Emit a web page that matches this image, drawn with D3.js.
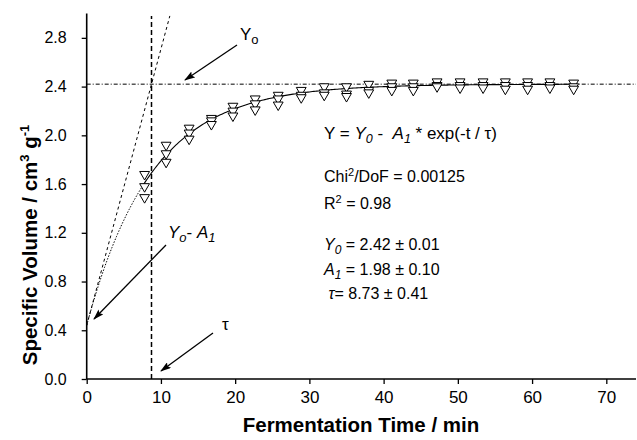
<!DOCTYPE html>
<html>
<head>
<meta charset="utf-8">
<script src="https://cdn.jsdelivr.net/npm/d3@7"></script>
<style>
  body { margin: 0; background: #fff; }
  text { font-family: Arial, "Liberation Sans", sans-serif; fill: #000; white-space: pre; }
</style>
</head>
<body>
<svg width="637" height="440"></svg>
<script>
// fermentation times (min), three repeat runs
const times = [7.8, 10.7, 13.8, 16.8, 19.7, 22.7, 25.8, 28.9, 32.0, 35.0, 38.0, 41.1, 44.0, 47.2, 50.3, 53.4, 56.4, 59.4, 62.4, 65.6]
const run1 = [1.68, 1.92, 2.06, 2.14, 2.24, 2.30, 2.33, 2.37, 2.40, 2.40, 2.42, 2.43, 2.43, 2.44, 2.44, 2.44, 2.44, 2.44, 2.44, 2.43]
const run2 = [1.58, 1.85, 2.02, 2.12, 2.20, 2.26, 2.30, 2.33, 2.35, 2.34, 2.37, 2.40, 2.40, 2.41, 2.41, 2.41, 2.41, 2.41, 2.41, 2.40]
const run3 = [1.49, 1.78, 1.97, 2.09, 2.16, 2.21, 2.25, 2.31, 2.33, 2.32, 2.35, 2.37, 2.37, 2.40, 2.39, 2.39, 2.38, 2.38, 2.39, 2.38]

const xTicks = [0, 10, 20, 30, 40, 50, 60, 70]
const xMinor = [5, 15, 25, 35, 45, 55, 65]
const yTicks = [0, 0.4, 0.8, 1.2, 1.6, 2.0, 2.4, 2.8]
const yMinor = [0.2, 0.6, 1.0, 1.4, 1.8, 2.2, 2.6]

// fit parameters
const Y0 = 2.42, A1 = 1.98, tau = 8.73

const svg = d3.select("svg")

const x = d3.scaleLinear().domain([0, 74]).range([86.7, 636])
const y = d3.scaleLinear().domain([0, 3.0]).range([379, 13.5])

// arrow head
svg.append("defs").append("marker")
    .attr("id", "arr")
    .attr("markerUnits", "userSpaceOnUse")
    .attr("markerWidth", 11).attr("markerHeight", 7)
    .attr("refX", 10).attr("refY", 3.5)
    .attr("orient", "auto")
  .append("path")
    .attr("d", "M0,0 L11,3.5 L0,7 L2,3.5 z")
    .attr("fill", "#000")

// axes
const gx = svg.append("g").attr("transform", "translate(0," + y(0) + ")")
gx.call(d3.axisBottom(x).tickValues(xMinor).tickSize(3).tickSizeOuter(0).tickFormat(""))
gx.call(d3.axisBottom(x).tickValues(xTicks).tickSize(5).tickSizeOuter(0).tickPadding(7).tickFormat(d3.format("d")))
gx.select(".domain").attr("d", "M" + x(0) + ",0H" + x(74))

const gy = svg.append("g").attr("transform", "translate(" + x(0) + ",0)")
gy.call(d3.axisLeft(y).tickValues(yMinor).tickSize(3).tickSizeOuter(0).tickFormat(""))
gy.call(d3.axisLeft(y).tickValues(yTicks).tickSize(5).tickSizeOuter(0).tickPadding(15).tickFormat(d3.format(".1f")))
gy.select(".domain").attr("d", "M0," + y(0) + "V" + y(3.0))

svg.selectAll(".domain").attr("stroke-width", 1.6)
svg.selectAll(".tick line").attr("stroke-width", 1.3)
svg.selectAll(".tick text").style("font-family", "Arial, 'Liberation Sans', sans-serif")
gx.selectAll(".tick text").style("font-size", "17px")
gy.selectAll(".tick text").style("font-size", "16px")

// axis titles
svg.append("text")
    .attr("x", 361).attr("y", 432)
    .attr("text-anchor", "middle")
    .style("font-size", "20.5px").style("font-weight", "bold")
    .text("Fermentation Time / min")

const yl = svg.append("text")
    .attr("transform", "translate(37,245) rotate(-90)")
    .attr("text-anchor", "middle")
    .style("font-size", "20.5px").style("font-weight", "bold")
yl.append("tspan").text("Specific Volume / cm")
yl.append("tspan").attr("dy", -8).style("font-size", "13px").text("3")
yl.append("tspan").attr("dy", 8).text(" g")
yl.append("tspan").attr("dy", -8).style("font-size", "13px").text("-1")

// reference lines
svg.append("line")
    .attr("x1", x(0)).attr("x2", x(74))
    .attr("y1", y(Y0)).attr("y2", y(Y0))
    .attr("stroke", "#000").attr("stroke-width", 1)
    .attr("stroke-dasharray", "4,2,1,2")

svg.append("line")
    .attr("x1", x(tau)).attr("x2", x(tau))
    .attr("y1", y(0)).attr("y2", y(2.98))
    .attr("stroke", "#000").attr("stroke-width", 1.5)
    .attr("stroke-dasharray", "5,3")

// initial tangent
const t0 = Y0 - A1
const tEnd = (2.98 - t0) / (A1 / tau)
svg.append("line")
    .attr("x1", x(0)).attr("y1", y(t0))
    .attr("x2", x(tEnd)).attr("y2", y(t0 + A1 / tau * tEnd))
    .attr("stroke", "#000").attr("stroke-width", 1)
    .attr("stroke-dasharray", "3,3")

// fit curve
const fit = t => Y0 - A1 * Math.exp(-t / tau)
const line = d3.line().x(d => x(d)).y(d => y(fit(d)))
svg.append("path")
    .attr("d", line(d3.range(0, 7.61, 0.1)))
    .attr("fill", "none").attr("stroke", "#000").attr("stroke-width", 1)
    .attr("stroke-dasharray", "1.5,1.5")
svg.append("path")
    .attr("d", line(d3.range(7.6, 65.7, 0.2)))
    .attr("fill", "none").attr("stroke", "#000").attr("stroke-width", 1.1)

// data points
const tri = d3.symbol().type(d3.symbolTriangle).size(42)
;[run1, run2, run3].forEach(run => {
  svg.append("g").selectAll("path")
    .data(run)
    .enter()
    .append("path")
    .attr("d", tri)
    .attr("transform", (d, i) => "translate(" + x(times[i]) + "," + y(d) + ") rotate(180)")
    .attr("fill", "#fff")
    .attr("stroke", "#000")
    .attr("stroke-width", 1)
})

// annotations
function arrow(x1, y1, x2, y2) {
  svg.append("line")
    .attr("x1", x1).attr("y1", y1).attr("x2", x2).attr("y2", y2)
    .attr("stroke", "#000").attr("stroke-width", 1.3)
    .attr("marker-end", "url(#arr)")
}
arrow(237, 45, 185, 80)
arrow(166, 245, 94, 319)
arrow(213, 333, 161, 371)

const yo = svg.append("text").attr("x", 240).attr("y", 40).style("font-size", "17px")
yo.append("tspan").text("Y")
yo.append("tspan").attr("dy", 4).style("font-size", "13px").text("o")

const ya = svg.append("text").attr("x", 168).attr("y", 238).style("font-size", "17px").style("font-style", "italic")
ya.append("tspan").text("Y")
ya.append("tspan").attr("dy", 4).style("font-size", "13px").text("o")
ya.append("tspan").attr("dy", -4).style("font-style", "normal").text("- ")
ya.append("tspan").text("A")
ya.append("tspan").attr("dy", 4).style("font-size", "13px").text("1")

svg.append("text").attr("x", 222).attr("y", 330).style("font-size", "17px").text("τ")

// fit result text
const tx = 324
const eq = svg.append("text").attr("x", tx).attr("y", 139).style("font-size", "17px")
eq.append("tspan").text("Y = ")
eq.append("tspan").style("font-style", "italic").text("Y")
eq.append("tspan").attr("dy", 4).style("font-style", "italic").style("font-size", "12.5px").text("0")
eq.append("tspan").attr("dy", -4).text(" -  ")
eq.append("tspan").style("font-style", "italic").text("A")
eq.append("tspan").attr("dy", 4).style("font-style", "italic").style("font-size", "12.5px").text("1")
eq.append("tspan").attr("dy", -4).text(" * exp(-t / τ)")

const chi = svg.append("text").attr("x", tx).attr("y", 182).style("font-size", "16px")
chi.append("tspan").text("Chi")
chi.append("tspan").attr("dy", -6).style("font-size", "11px").text("2")
chi.append("tspan").attr("dy", 6).text("/DoF = 0.00125")

const r2 = svg.append("text").attr("x", tx).attr("y", 209).style("font-size", "16px")
r2.append("tspan").text("R")
r2.append("tspan").attr("dy", -6).style("font-size", "11px").text("2")
r2.append("tspan").attr("dy", 6).text(" = 0.98")

function param(yPos, sym, sub, val) {
  const t = svg.append("text").attr("x", tx).attr("y", yPos).style("font-size", "16px")
  t.append("tspan").style("font-style", "italic").text(sym)
  if (sub) {
    t.append("tspan").attr("dy", 4).style("font-style", "italic").style("font-size", "12px").text(sub)
    t.append("tspan").attr("dy", -4).text(" = " + val)
  } else {
    t.append("tspan").text("= " + val)
  }
}
param(250, "Y", "0", "2.42 ± 0.01")
param(275, "A", "1", "1.98 ± 0.10")
param(299, " τ", null, "8.73 ± 0.41")
</script>
</body>
</html>
